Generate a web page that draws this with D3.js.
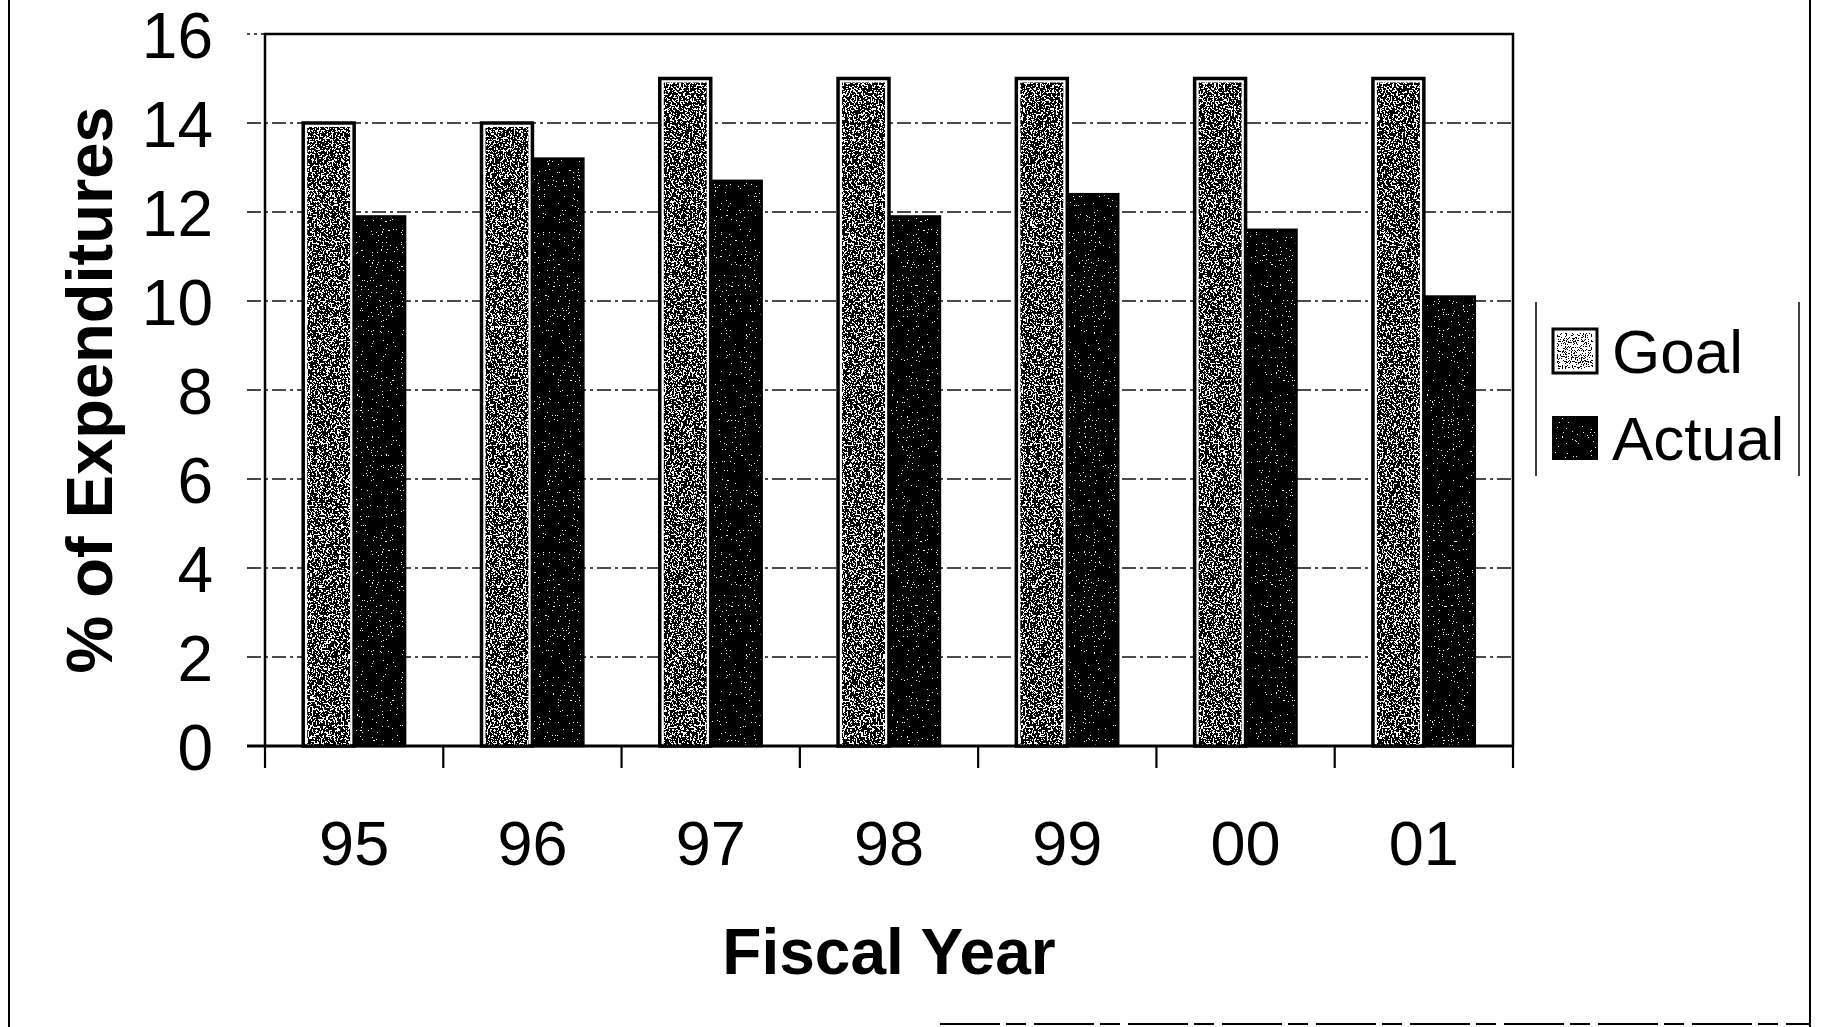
<!DOCTYPE html>
<html><head><meta charset="utf-8">
<script src="https://cdn.jsdelivr.net/npm/d3@7"></script>
<style>
body{margin:0;background:#fff}
svg{display:block}
text{font-family:"Liberation Sans",Arial,Helvetica,sans-serif;fill:#000}
</style></head>
<body><svg id="c" width="1822" height="1027"></svg>
<script>
// ---- data ----
const years = ["95","96","97","98","99","00","01"];
const goal = [14,14,15,15,15,15,15];
const actual = [11.9,13.2,12.7,11.9,12.4,11.6,10.1];
const seriesNames = ["Goal","Actual"];
const yTicks = [0,2,4,6,8,10,12,14,16];
const yTitle = "% of Expenditures";
const xTitle = "Fiscal Year";

// ---- layout ----
const W = 1822, H = 1027;
const m = {left:265, top:34, right:W-1513, bottom:H-746};
const iw = W - m.left - m.right, ih = H - m.top - m.bottom;
const svg = d3.select("#c");

// textures
const defs = svg.append("defs");
function tex(id, freq, seed, thresh){
  const n = 40, tv = d3.range(n).map(i => (i/n >= thresh ? 1 : 0)).join(" ");
  const f = defs.append("filter").attr("id", id)
    .attr("x",0).attr("y",0).attr("width",1).attr("height",1)
    .attr("color-interpolation-filters","sRGB");
  f.append("feTurbulence").attr("type","fractalNoise").attr("baseFrequency",freq)
    .attr("numOctaves",2).attr("seed",seed).attr("result","n");
  f.append("feColorMatrix").attr("in","n").attr("type","matrix")
    .attr("values","1 0 0 0 0  1 0 0 0 0  1 0 0 0 0  0 0 0 0 1").attr("result","g");
  const ct = f.append("feComponentTransfer").attr("in","g").attr("result","t");
  ["feFuncR","feFuncG","feFuncB"].forEach(k => ct.append(k).attr("type","discrete").attr("tableValues",tv));
  f.append("feComposite").attr("in","t").attr("in2","SourceGraphic").attr("operator","in");
}
tex("goalTex", 0.55, 3, 0.55);
tex("actTex", 0.8, 7, 0.72);
tex("goalLeg", 0.8, 11, 0.42);

const g = svg.append("g").attr("transform",`translate(${m.left},${m.top})`);

const x0 = d3.scaleBand().domain(years).range([0, iw]).paddingInner(0).paddingOuter(0);
const x1 = d3.scaleBand().domain(seriesNames).range([0, x0.bandwidth()]).paddingInner(0).paddingOuter(0.75);
const y = d3.scaleLinear().domain([0,16]).range([ih, 0]);

// gridlines (dash-dot), extending left as tick marks
g.append("g").selectAll("line").data(yTicks.filter(d => d>0 && d<16)).join("line")
  .attr("x1",-18).attr("x2",iw).attr("y1",d=>y(d)).attr("y2",d=>y(d))
  .attr("stroke","#111").attr("stroke-width",1.6).attr("stroke-dasharray","14 4 3 4");
g.append("line").attr("x1",-18).attr("x2",0).attr("y1",y(16)).attr("y2",y(16))
  .attr("stroke","#111").attr("stroke-width",1.6).attr("stroke-dasharray","3 4");

// y axis labels
const yAxis = g.append("g").call(d3.axisLeft(y).tickValues(yTicks).tickSize(0).tickPadding(52));
yAxis.select(".domain").remove();
yAxis.selectAll("text").attr("font-size",64).attr("font-family",'"Liberation Sans",Arial,sans-serif').attr("dy","0.36em");

// bars
const rows = years.map((yr,i) => ({yr, vals:[{k:"Goal",v:goal[i]},{k:"Actual",v:actual[i]}]}));
const grp = g.append("g").selectAll("g").data(rows).join("g")
  .attr("transform", d => `translate(${x0(d.yr)},0)`);
// goal
grp.append("rect")
  .attr("x", x1("Goal")).attr("width", x1.bandwidth())
  .attr("y", d => y(d.vals[0].v)).attr("height", d => ih - y(d.vals[0].v))
  .attr("fill","#fff").attr("stroke","#000").attr("stroke-width",3.5);
grp.append("rect")
  .attr("x", x1("Goal")+4).attr("width", x1.bandwidth()-8)
  .attr("y", d => y(d.vals[0].v)+4).attr("height", d => ih - y(d.vals[0].v)-5)
  .attr("fill","#000").attr("filter","url(#goalTex)");
// actual
grp.append("rect")
  .attr("x", x1("Actual")).attr("width", x1.bandwidth())
  .attr("y", d => y(d.vals[1].v)).attr("height", d => ih - y(d.vals[1].v))
  .attr("fill","#000").attr("filter","url(#actTex)");
grp.append("rect")
  .attr("x", x1("Actual")).attr("width", x1.bandwidth())
  .attr("y", d => y(d.vals[1].v)).attr("height", d => ih - y(d.vals[1].v))
  .attr("fill","none").attr("stroke","#000").attr("stroke-width",2.5);

// plot border
g.append("path").attr("d",`M0,${ih}V0H${iw}V${ih}`).attr("fill","none").attr("stroke","#000").attr("stroke-width",2.5);
// x axis line
g.append("line").attr("x1",-18).attr("x2",iw).attr("y1",ih).attr("y2",ih).attr("stroke","#000").attr("stroke-width",3);
// x boundary ticks
const bounds = years.map(d => x0(d)).concat([x0.range()[1]]);
g.append("g").selectAll("line").data(bounds).join("line")
  .attr("x1",d=>d).attr("x2",d=>d).attr("y1",ih).attr("y2",ih+22)
  .attr("stroke","#000").attr("stroke-width",2.2);
// x labels
const xAxis = g.append("g").attr("transform",`translate(0,${ih})`).call(d3.axisBottom(x0).tickSize(0));
xAxis.select(".domain").remove();
xAxis.selectAll("text").attr("font-size",63).attr("font-family",'"Liberation Sans",Arial,sans-serif').attr("y",119).attr("dy",null);

// titles
svg.append("text").attr("x", m.left + iw/2).attr("y", 974).attr("text-anchor","middle")
  .attr("font-size",64).attr("font-weight","bold").text(xTitle);
svg.append("text").attr("transform",`translate(112,${m.top+ih/2}) rotate(-90)`).attr("text-anchor","middle")
  .attr("font-size",65).attr("font-weight","bold").text(yTitle);

// legend
const lg = svg.append("g");
lg.append("line").attr("x1",1536).attr("x2",1536).attr("y1",302).attr("y2",476).attr("stroke","#000").attr("stroke-width",1.5);
lg.append("line").attr("x1",1799).attr("x2",1799).attr("y1",302).attr("y2",476).attr("stroke","#000").attr("stroke-width",1.5);
const legY = {Goal:351, Actual:438};
seriesNames.forEach(k => {
  const cy = legY[k];
  if (k === "Goal") {
    lg.append("rect").attr("x",1553).attr("y",cy-22).attr("width",44).attr("height",44)
      .attr("fill","#fff").attr("stroke","#000").attr("stroke-width",3);
    lg.append("rect").attr("x",1557).attr("y",cy-18).attr("width",36).attr("height",36)
      .attr("fill","#000").attr("filter","url(#goalLeg)");
  } else {
    lg.append("rect").attr("x",1553).attr("y",cy-21).attr("width",44).attr("height",42)
      .attr("fill","#000").attr("filter","url(#actTex)");
    lg.append("rect").attr("x",1553).attr("y",cy-21).attr("width",44).attr("height",42)
      .attr("fill","none").attr("stroke","#000").attr("stroke-width",2);
  }
  lg.append("text").attr("x",1612).attr("y",cy+22).attr("font-size",62).text(k);
});

// outer frame fragments
svg.append("line").attr("x1",9).attr("x2",9).attr("y1",0).attr("y2",H).attr("stroke","#000").attr("stroke-width",2);
svg.append("line").attr("x1",1810).attr("x2",1810).attr("y1",0).attr("y2",H).attr("stroke","#000").attr("stroke-width",2);
svg.append("line").attr("x1",940).attr("x2",1810).attr("y1",1024).attr("y2",1024).attr("stroke","#000").attr("stroke-width",2).attr("stroke-dasharray","60 6 20 8");
</script>
</body></html>
